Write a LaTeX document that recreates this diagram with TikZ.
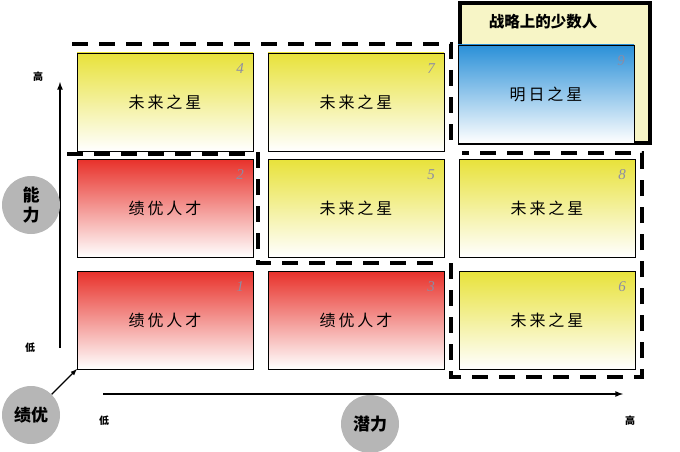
\documentclass[tikz,border=0pt]{standalone}
\usepackage{fontspec}
\setmainfont{Liberation Serif}
\newfontfamily\cjk{Noto Sans CJK SC}
\newfontfamily\cjkbox[LetterSpace=18]{Noto Sans CJK SC}
\usetikzlibrary{positioning}

\definecolor{startop}{HTML}{E8E23A}
\definecolor{perftop}{HTML}{E8312A}
\definecolor{risetop}{HTML}{2A90D8}
\definecolor{numgray}{HTML}{8C8CA4}
\definecolor{stratfill}{HTML}{F7F5C6}
\definecolor{circgray}{HTML}{B6B6B6}

\begin{document}
\begin{tikzpicture}[x=1pt,y=-1pt,
  cell/.style={draw,thick,outer sep=0pt,minimum width=176pt,minimum height=98pt,
    font=\cjkbox\fontsize{16}{16}\selectfont},
  starcell/.style={cell,top color=startop,bottom color=white},
  perfcell/.style={cell,top color=perftop,bottom color=white},
  risecell/.style={cell,top color=risetop,bottom color=white},
  num/.style={font=\itshape\fontsize{15}{15}\selectfont,text=numgray,inner sep=0pt},
  ball/.style={circle,fill=circgray,minimum size=58pt,inner sep=0pt,
    font=\cjk\bfseries\fontsize{17}{20}\selectfont,align=center},
  tick/.style={font=\cjk\bfseries\fontsize{10}{10}\selectfont},
  axis/.style={line width=1.6pt,-latex},
  zone/.style={line width=4pt,dash pattern=on 16pt off 11pt}]
  \useasboundingbox (0,0) rectangle (680,452);

  % strategic few
  \node (strat) at (555,73) [draw,line width=4.5pt,fill=stratfill,minimum width=190pt,minimum height=140pt] {};
  \node (stratlabel) at (543,22) [font=\cjk\bfseries\fontsize{15.5}{16}\selectfont] {战略上的少数人};

  % grid
  \node (b1) at (165,320) [perfcell] {绩优人才};
  \node (b3) [perfcell, right=15pt of b1] {绩优人才};
  \node (b6) [starcell, right=15pt of b3] {未来之星};
  \node (b2) [perfcell, above=14pt of b1] {绩优人才};
  \node (b5) [starcell, above=14pt of b3] {未来之星};
  \node (b8) [starcell, above=14pt of b6] {未来之星};
  \node (b4) [starcell, above=8pt of b2] {未来之星};
  \node (b7) [starcell, above=8pt of b5] {未来之星};
  \node (b9) at (546,94) [risecell] {明日之星};

  \node (n1) [num, below left=10pt and 9pt of b1.north east] {1};
  \node (n2) [num, below left=10pt and 9pt of b2.north east] {2};
  \node (n3) [num, below left=10pt and 9pt of b3.north east] {3};
  \node (n4) [num, below left=10pt and 9pt of b4.north east] {4};
  \node (n5) [num, below left=10pt and 9pt of b5.north east] {5};
  \node (n6) [num, below left=10pt and 9pt of b6.north east] {6};
  \node (n7) [num, below left=10pt and 9pt of b7.north east] {7};
  \node (n8) [num, below left=10pt and 9pt of b8.north east] {8};
  \node (n9) [num, below left=10pt and 9pt of b9.north east] {9};

  % dashed zones
  \draw[zone] (72,44) -- (451,44) -- (451,150);
  \draw[zone] (67,154) -- (258,154) -- (258,263) -- (440,263);
  \draw[zone] (451,263) -- (451,377) -- (642,377) -- (642,153) -- (462,153);

  % axes
  \coordinate (ylow) at (60,348);
  \coordinate (yhigh) at (60,82);
  \coordinate (xlow) at (103,394);
  \coordinate (xhigh) at (623,394);
  \draw[axis] (ylow) -- (yhigh);
  \draw[axis] (xlow) -- (xhigh);
  \node (yhightext) at (38,77) [tick] {高};
  \node (ylowtext) at (30,348) [tick] {低};
  \node (xlowtext) at (104,421) [tick] {低};
  \node (xhightext) at (630,421) [tick] {高};

  \node (ability) at (31,205) [ball] {能\\力};
  \node (perf) at (31,415) [ball] {绩优};
  \node (potential) at (370,424) [ball] {潜力};
  \draw[line width=1.2pt,-latex] (perf) -- (b1.south west);
\end{tikzpicture}
\end{document}
